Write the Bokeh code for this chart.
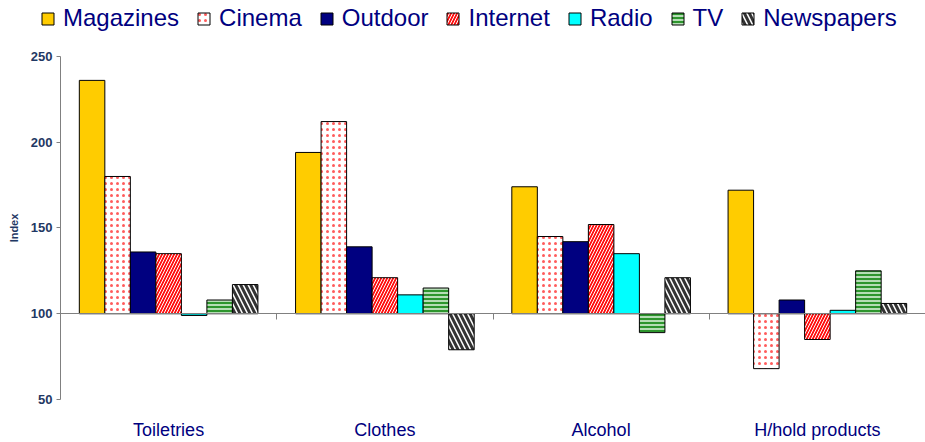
from bokeh.plotting import figure
from bokeh.models import Range1d, LinearAxis, FixedTicker, Legend, LegendItem, ColumnDataSource
from bokeh.embed import file_html
from bokeh.resources import INLINE

# ---- data ----
categories = ["Toiletries", "Clothes", "Alcohol", "H/hold products"]
series = ["Magazines", "Cinema", "Outdoor", "Internet", "Radio", "TV", "Newspapers"]
magazines = [236, 194, 174, 172]
cinema = [180, 212, 145, 68]
outdoor = [136, 139, 142, 108]
internet = [135, 121, 152, 85]
radio = [99, 111, 135, 102]
tv = [108, 115, 89, 125]
newspapers = [117, 79, 121, 106]
y_ticks = [50, 100, 150, 200, 250]
baseline = 100

values = [magazines, cinema, outdoor, internet, radio, tv, newspapers]

styles = [
    dict(fill_color="#FFCC00"),
    dict(fill_color="white", hatch_pattern="dot", hatch_color="#FF4040", hatch_scale=6, hatch_weight=1, hatch_alpha=0.85),
    dict(fill_color="#000080"),
    dict(fill_color="#FF1010", hatch_pattern="right_diagonal_line", hatch_color="white", hatch_scale=6, hatch_weight=1.0),
    dict(fill_color="#00FFFF"),
    dict(fill_color="#B5DDB5", hatch_pattern="horizontal_line", hatch_color="#1E8C1E", hatch_scale=4, hatch_weight=1.8),
    dict(fill_color="white", hatch_pattern="left_diagonal_line", hatch_color="#333333", hatch_scale=10, hatch_weight=3),
]

W, H = 925, 442
axis_bottom_px = 400      # pixel row of the lowest tick (50)
frame_bottom_px = 414
left_px = 60
px_per_unit_y = 86 / 50
px_per_cat = (W - left_px) / len(categories)
y_top = y_ticks[0] + axis_bottom_px / px_per_unit_y
y_bottom = y_ticks[0] - (frame_bottom_px - axis_bottom_px) / px_per_unit_y
x_start = -left_px / px_per_cat

p = figure(width=W, height=H, output_backend="svg", toolbar_location=None,
           x_range=Range1d(x_start, len(categories)), y_range=Range1d(y_bottom, y_top),
           x_axis_location=None, y_axis_location=None,
           min_border_left=0, min_border_right=0,
           min_border_top=0, min_border_bottom=H - frame_bottom_px)
p.outline_line_color = None
p.xgrid.grid_line_color = None
p.ygrid.grid_line_color = None
p.background_fill_color = "white"

bw = 0.118
n = len(series)
items = []
for j, (name, vals, st) in enumerate(zip(series, values, styles)):
    xs = [i + 0.5 + (j - (n - 1) / 2) * bw for i in range(len(categories))]
    src = ColumnDataSource(dict(x=xs, top=vals, bottom=[baseline] * len(vals)))
    r = p.vbar(x="x", top="top", bottom="bottom", width=bw, source=src,
               line_color="black", line_width=1, **st)
    items.append(LegendItem(label=name, renderers=[r]))

# y axis, placed at the start of the categories
ya = LinearAxis(fixed_location=0, ticker=FixedTicker(ticks=y_ticks), bounds=(y_ticks[0], y_ticks[-1]))
ya.minor_tick_line_color = None
ya.axis_line_color = "#808080"
ya.major_tick_line_color = "#808080"
ya.major_tick_out = 4
ya.major_tick_in = 0
ya.major_label_standoff = 4
ya.major_label_text_font = "Liberation Sans"
ya.major_label_text_font_style = "bold"
ya.major_label_text_font_size = "13px"
ya.major_label_text_color = "#1F3864"
ya.axis_label = "Index"
ya.axis_label_text_font = "Liberation Sans"
ya.axis_label_text_font_style = "bold"
ya.axis_label_text_font_size = "11px"
ya.axis_label_text_color = "#1F3864"
ya.axis_label_standoff = 8
p.add_layout(ya, "left")

# baseline axis at 100
xa = LinearAxis(fixed_location=baseline, ticker=FixedTicker(ticks=list(range(len(categories) + 1))),
                bounds=(0, len(categories)))
xa.axis_line_color = "#808080"
xa.major_tick_line_color = "#808080"
xa.major_tick_out = 6
xa.major_tick_in = 0
xa.minor_tick_line_color = None
xa.major_label_text_font_size = "0px"
p.add_layout(xa, "below")

# category labels axis
la = LinearAxis(ticker=FixedTicker(ticks=[i + 0.5 for i in range(len(categories))]),
                major_label_overrides={i + 0.5: c for i, c in enumerate(categories)})
la.axis_line_color = None
la.major_tick_line_color = None
la.minor_tick_line_color = None
la.major_label_text_font = "Liberation Sans"
la.major_label_text_font_size = "18px"
la.major_label_text_color = "#000080"
la.major_label_standoff = 0
p.add_layout(la, "below")

legend = Legend(items=items, orientation="horizontal", location=(40, frame_bottom_px - 33),
                glyph_width=15, glyph_height=15, label_standoff=8, spacing=17,
                padding=0, margin=0, border_line_color=None, background_fill_alpha=0,
                label_text_font="Liberation Sans", label_text_font_size="24px",
                label_text_color="#000080")
p.add_layout(legend)

open("out.html", "w").write(file_html(p, INLINE))
